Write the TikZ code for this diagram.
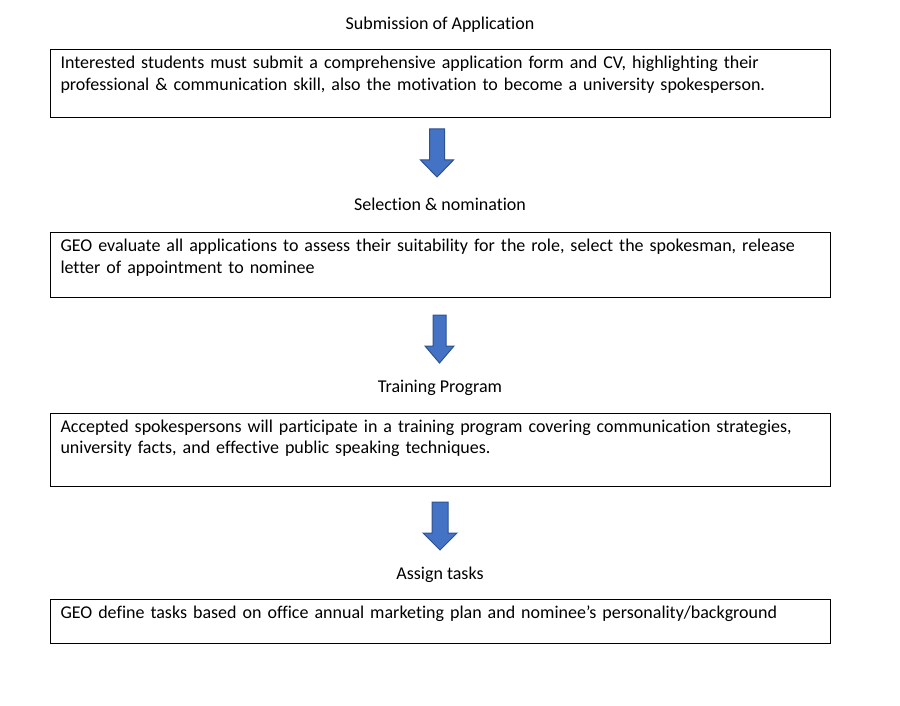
\documentclass[tikz,border=0pt]{standalone}
\usepackage{fontspec}
\setmainfont{Carlito}[Ligatures=NoCommon]
\usetikzlibrary{positioning,calc}

\definecolor{arrowfill}{HTML}{4472C4}
\definecolor{arrowline}{HTML}{2F528F}

% block arrow pointing down: centre x, top y, shaft half width, head half width
\newcommand{\flowarrow}[4]{%
  \draw[blockarrow] (#1-#3,#2) -- (#1+#3,#2) -- (#1+#3,#2+31) -- (#1+#4,#2+31)
    -- (#1,#2+48) -- (#1-#4,#2+31) -- (#1-#3,#2+31) -- cycle;}

\tikzset{
  stepbox/.style={draw, line width=0.75pt, anchor=north west, align=left,
    text width=570pt, inner xsep=7.5pt, inner ysep=0pt, text height=14.25pt,
    font=\fontsize{13.5}{16.2}\selectfont},
  steptitle/.style={anchor=base, inner sep=0pt, font=\fontsize{13.5}{16}\selectfont},
  blockarrow/.style={fill=arrowfill, draw=arrowline, line width=0.75pt}
}

\begin{document}
\begin{tikzpicture}[x=0.75pt,y=-0.75pt]
    \useasboundingbox (0,0) rectangle (900,706);

    % Submission
    \node[steptitle] (subtitle) at (440,30) {Submission of Application};
    \node[stepbox, text depth=36.75pt] (sub) at (50,49)
      {Interested students must submit a comprehensive application form and CV, highlighting their\\
       professional \& communication skill, also the motivation to become a university spokesperson.};
    \flowarrow{437}{129}{7.5}{16.5}

    % Selection
    \node[steptitle] (seltitle) at (440,211) {Selection \& nomination};
    \node[stepbox, text depth=34.5pt] (sel) at (50,232)
      {GEO evaluate all applications to assess their suitability for the role, select the spokesman, release\\
       letter of appointment to nominee};
    \flowarrow{439.5}{315}{6.5}{14.5}

    % Training
    \node[steptitle] (traintitle) at (440,392) {Training Program};
    \node[stepbox, text depth=40.9pt] (train) at (50,412.5)
      {Accepted spokespersons will participate in a training program covering communication strategies,\\
       university facts, and effective public speaking techniques.};
    \flowarrow{440}{502}{8}{17}

    % Assign
    \node[steptitle] (assigntitle) at (440,579) {Assign tasks};
    \node[stepbox, text depth=18.75pt] (assign) at (50,599)
      {GEO define tasks based on office annual marketing plan and nominee’s personality/background};
\end{tikzpicture}
\end{document}
